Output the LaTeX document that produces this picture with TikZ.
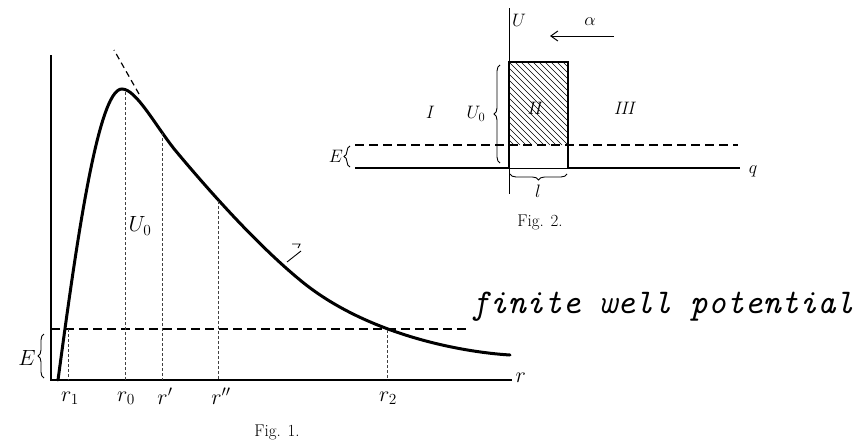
\RequirePackage{fix-cm}
\documentclass[tikz,border=0pt]{standalone}
\usepackage{fontspec}
\usetikzlibrary{arrows.meta, decorations.pathreplacing, calc}

\begin{document}
\begin{tikzpicture}[x=1pt, y=-1pt,
    lbl/.style={font=\fontsize{22}{24}\selectfont},
    smalllbl/.style={font=\fontsize{18}{20}\selectfont},
    figcap/.style={font=\fontsize{17}{19}\selectfont},
    guide/.style={line width=1pt, dash pattern=on 3pt off 2pt, black!75},
    level/.style={line width=1.1pt, dash pattern=on 9pt off 5pt},
    bracket/.style={decorate, decoration={brace, amplitude=6pt}, line width=0.9pt}]

    \useasboundingbox (0,0) rectangle (861,442);

    % Fig. 1: barrier U(r)
    \draw[line width=1.5pt] (51,55) -- (51,380) -- (512,380);
    \node[lbl, anchor=west] (rlab) at (512,378) {$r$};

    % Potential curve and its continuation
    \draw[line width=3pt, line cap=round]
        (58,380) .. controls (74,262) and (97,88) .. (122,89)
        .. controls (136,89) and (155,125) .. (175,150)
        .. controls (215,198) and (260,247) .. (300,280)
        .. controls (365,334) and (460,352) .. (510,355);
    \draw[line width=1.2pt, dash pattern=on 6pt off 4pt] (139,94) -- (114,50);

    % Level E and guide lines
    \draw[level] (51,329) -- (468,329);
    \draw[guide] (68,329) -- (68,380);
    \foreach \xx/\yy in {125/92, 162/133, 218/201, 387/330} {
        \draw[guide] (\xx,\yy) -- (\xx,380);
    }

    % Labels on the r axis
    \node[lbl] (rone) at (70,398) {$r_1$};
    \node[lbl] (rzero) at (126,398) {$r_0$};
    \node[lbl] (rprime) at (165,396) {$r'$};
    \node[lbl] (rsecond) at (221,396) {$r''$};
    \node[lbl] (rtwo) at (388,398) {$r_2$};

    \draw[bracket] (44,378) -- (44,334);
    \node[lbl] (Eone) at (27,358) {$E$};
    \node[lbl] (Uzero) at (140,226) {$U_0$};

    % small mark on the curve
    \draw[line width=0.9pt] (287,262) -- (301,251);
    \draw[line width=0.9pt] (292,244) -- (300,244) -- (298,248);

    \node[figcap] (capone) at (277,432) {Fig. 1.};

    % Fig. 2: rectangular barrier
    \draw[line width=1pt] (509,8) -- (509,194);
    \node[smalllbl] (Ulab) at (519,20) {$U$};
    \draw[line width=1pt, -{Straight Barb[length=7pt, width=10pt]}] (614,36) -- (550,36);
    \node[smalllbl] (alpha) at (590,22) {$\alpha$};

    % Hatching of region II
    \begin{scope}
        \clip (509,62) rectangle (568,145);
        \foreach \s in {-84,-78,...,60} {
            \draw[line width=0.6pt] ({509+\s},62) -- ({592+\s},145);
        }
    \end{scope}

    \draw[line width=0.8pt] (509,168) -- (568,168);
    \draw[line width=2.5pt] (355,168) -- (509,168) -- (509,62) -- (568,62) -- (568,168) -- (740,168);
    \node[smalllbl] (qlab) at (753,171) {$q$};
    \draw[level] (355,145) -- (738,145);

    \draw[bracket] (350,167) -- (350,146);
    \node[smalllbl] (Etwo) at (336,156) {$E$};
    \draw[bracket] (500,163) -- (500,65);
    \node[smalllbl] (Uzerotwo) at (476,114) {$U_0$};
    \draw[bracket] (567,174) -- (510,174);
    \node[smalllbl] (ell) at (538,191) {$l$};

    \node[smalllbl] (regI) at (430,112) {\textit{I}};
    \node[smalllbl] (regII) at (535,108) {\textit{II}};
    \node[smalllbl] (regIII) at (625,108) {\textit{III}};

    \node[figcap] (captwo) at (540,222) {Fig. 2.};

    \node[anchor=base west, inner sep=0pt, font=\fontsize{34.7}{40}\selectfont\ttfamily\itshape] (note) at (471,313) {finite well potential};

\end{tikzpicture}
\end{document}
